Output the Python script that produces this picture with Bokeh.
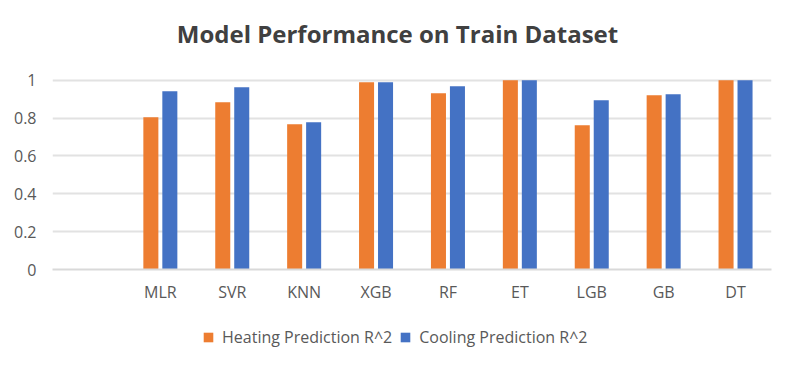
from bokeh.plotting import figure
from bokeh.layouts import column
from bokeh.models import FactorRange, Range1d, FixedTicker, Legend, LegendItem, ColumnDataSource, Label
from bokeh.transform import dodge
from bokeh.embed import file_html
from bokeh.resources import INLINE

title_text = "Model Performance on Train Dataset"
categories = [" ", "MLR", "SVR", "KNN", "XGB", "RF", "ET", "LGB", "GB", "DT"]
models = ["MLR", "SVR", "KNN", "XGB", "RF", "ET", "LGB", "GB", "DT"]
heating_r2 = [0.805, 0.884, 0.768, 0.989, 0.931, 1.0, 0.762, 0.921, 1.0]
cooling_r2 = [0.942, 0.963, 0.778, 0.989, 0.968, 1.0, 0.894, 0.926, 1.0]
y_ticks = [0, 0.2, 0.4, 0.6, 0.8, 1]
y_tick_labels = ["0", "0.2", "0.4", "0.6", "0.8", "1"]
series_names = ["Heating Prediction R^2", "Cooling Prediction R^2"]

ORANGE = "#ED7D31"
BLUE = "#4472C4"
FONT = "Open Sans"

# title strip
tf = figure(width=779, height=56, x_range=Range1d(0, 1), y_range=Range1d(0, 1),
            output_backend="svg", toolbar_location=None, min_border=0)
tf.axis.visible = False
tf.grid.grid_line_color = None
tf.outline_line_color = None
tf.add_layout(Label(x=345, y=23, x_units="screen", y_units="screen", text=title_text,
                    text_font=FONT, text_font_size="24px", text_font_style="bold",
                    text_color="#404040", text_align="center", text_baseline="alphabetic"))

# main chart
src = ColumnDataSource(dict(model=models, heating=heating_r2, cooling=cooling_r2))

p = figure(width=779, height=256, x_range=FactorRange(factors=categories, range_padding=0),
           y_range=Range1d(0, 1.02), output_backend="svg", toolbar_location=None,
           min_border_left=52, min_border_right=8, min_border_top=20, min_border_bottom=43)

p.vbar(x=dodge("model", -0.132, range=p.x_range), top="heating", width=0.209, source=src,
       fill_color=ORANGE, line_color=None)
p.vbar(x=dodge("model", 0.132, range=p.x_range), top="cooling", width=0.209, source=src,
       fill_color=BLUE, line_color=None)

p.outline_line_color = None
p.xgrid.grid_line_color = None
p.ygrid.grid_line_color = "#e2e2e2"
p.ygrid.grid_line_width = 2
p.ygrid.ticker = FixedTicker(ticks=y_ticks)

p.yaxis.ticker = FixedTicker(ticks=y_ticks)
p.yaxis.major_label_overrides = {t: l for t, l in zip(y_ticks, y_tick_labels)}
p.yaxis.axis_line_color = None
p.yaxis.major_tick_line_color = None
p.yaxis.minor_tick_line_color = None
p.yaxis.major_label_standoff = 10
p.yaxis.major_label_text_font = FONT
p.yaxis.major_label_text_font_size = "16px"
p.yaxis.major_label_text_color = "#595959"

p.xaxis.axis_line_color = "#d9d9d9"
p.xaxis.axis_line_width = 2
p.xaxis.major_tick_line_color = None
p.xaxis.minor_tick_line_color = None
p.xaxis.major_label_standoff = 5
p.xaxis.major_label_text_font = FONT
p.xaxis.major_label_text_font_size = "16px"
p.xaxis.major_label_text_color = "#595959"

# legend strip (swatch renderers have zero height, so only their legend swatches show)
lg = figure(width=779, height=41, x_range=Range1d(0, 1), y_range=Range1d(0, 1),
            output_backend="svg", toolbar_location=None, min_border=0)
lg.axis.visible = False
lg.grid.grid_line_color = None
lg.outline_line_color = None
k1 = lg.vbar(x=[0.5], top=[0], width=0.1, fill_color=ORANGE, line_color=None)
k2 = lg.vbar(x=[0.5], top=[0], width=0.1, fill_color=BLUE, line_color=None)
legend = Legend(items=[LegendItem(label=series_names[0], renderers=[k1]),
                       LegendItem(label=series_names[1], renderers=[k2])],
                orientation="horizontal", location=(150, 5),
                glyph_width=12, glyph_height=12, label_standoff=8, spacing=7,
                padding=0, margin=0, border_line_color=None, background_fill_alpha=0,
                label_text_font=FONT, label_text_font_size="16px", label_text_color="#595959")
lg.add_layout(legend, "center")

layout = column(tf, p, lg, spacing=0)
open("out.html", "w").write(file_html(layout, INLINE))
